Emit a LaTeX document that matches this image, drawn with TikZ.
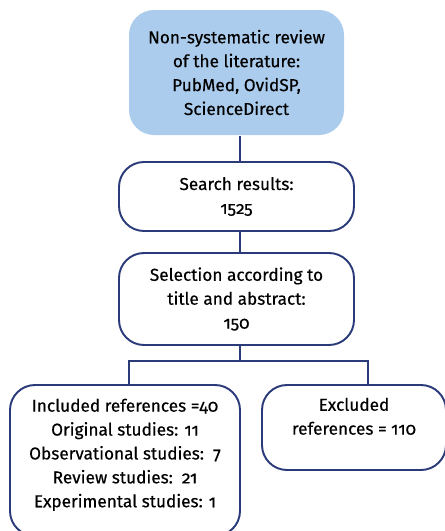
\documentclass[tikz,border=0pt]{standalone}
\usepackage{fontspec}
\setmainfont[Numbers=OldStyle,FakeBold=0.4]{Fira Sans}
\usepackage{xcolor}
\usepackage{tikz}
\definecolor{navyline}{rgb}{0.17, 0.23, 0.48}
\definecolor{paleblue}{rgb}{0.67, 0.80, 0.93}

\begin{document}
\begin{tikzpicture}[line width=1.1pt,
  box/.style={draw=navyline,fill=white,rounded corners=0.5cm,align=center,font=\fontsize{9.8}{13.6}\selectfont},
  source/.style={fill=paleblue,rounded corners=0.5cm,align=center,font=\fontsize{9.8}{13.6}\selectfont}]
\useasboundingbox (0,0) rectangle (8.88,-10.62);
\node[source,minimum width=4.3cm,minimum height=2.5cm] (review) at (4.73,-1.45) {Non-systematic review\\of the literature:\\PubMed, OvidSP,\\ScienceDirect};
\node[box,minimum width=4.7cm,minimum height=1.38cm] (search) at (4.73,-3.93) {Search results:\\1525};
\node[box,minimum width=4.7cm,minimum height=1.84cm] (select) at (4.73,-5.98) {Selection according to\\title and abstract:\\150};
\node[box,minimum width=4.6cm,minimum height=3.02cm,text depth=0.3cm] (incl) at (2.5,-9.21) {Included references =40\\Original studies: 11\\Observational studies:\ \ 7\\Review studies:\ \ 21\\Experimental studies: 1};
\node[box,minimum width=3.68cm,minimum height=1.7cm,text depth=0.45cm] (excl) at (7.08,-8.55) {Excluded\\references = 110};
\coordinate (fork) at (4.8,-7.22);
\draw[navyline] ([xshift=0.07cm]review.south) -- ([xshift=0.07cm]search.north);
\draw[navyline] ([xshift=0.07cm]search.south) -- ([xshift=0.07cm]select.north);
\draw[navyline] ([xshift=0.07cm]select.south) -- (fork);
\draw[navyline] (fork) -| ([xshift=0.08cm]incl.north);
\draw[navyline] (fork) -| ([xshift=0.28cm]excl.north);
\end{tikzpicture}
\end{document}
